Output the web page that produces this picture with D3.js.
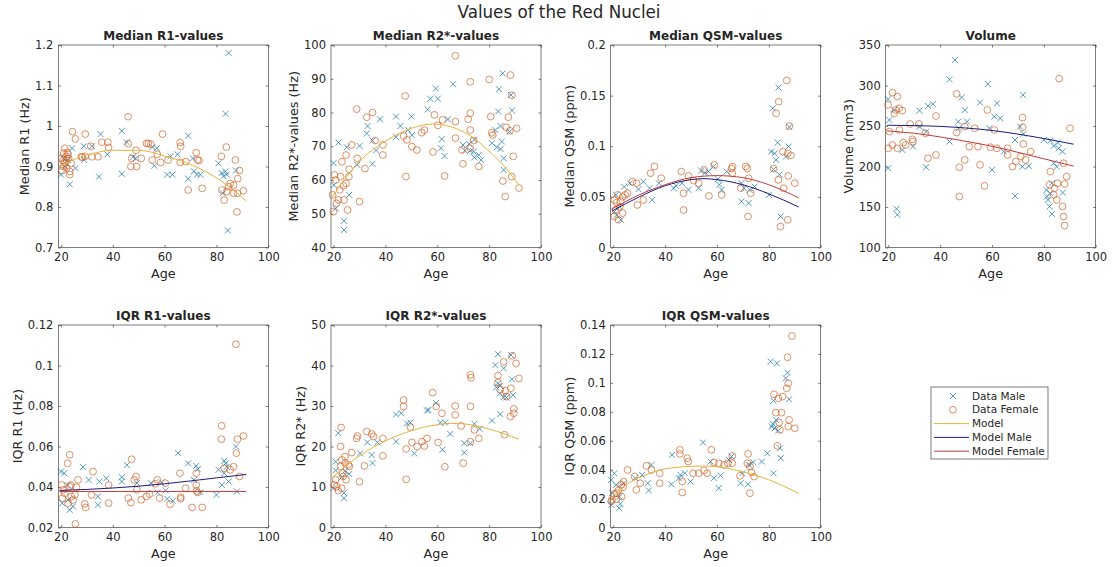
<!DOCTYPE html>
<html>
<head>
<meta charset="utf-8">
<script src="https://cdn.jsdelivr.net/npm/d3@7"></script>
<style>
  body { margin: 0; background: #fff; }
  svg text { font-family: "DejaVu Sans", sans-serif; fill: #262626; }
</style>
</head>
<body>
<svg id="chart" width="1112" height="567"></svg>
<script>
// ---- data: [age, value] ----
const xTicks = [20, 40, 60, 80, 100];

const maleR1 = [[20,0.88],[23.4,0.856],[21,0.92],[21.5,0.9],[22.8,0.916],[24.3,0.945],[25.6,0.896],[28.8,0.95],[29,0.916],
  [32,0.95],[35.3,0.98],[34.7,0.875],[37.9,0.93],[43.5,0.988],[43.5,0.882],[45.4,0.96],[47.8,0.923],[48.8,0.92],
  [55.3,0.948],[57,0.945],[56,0.902],[61,0.88],[63,0.88],[62.3,0.925],[65,0.93],[69.1,0.976],[69.1,0.87],[71.3,0.888],
  [72.5,0.88],[73.8,0.88],[70.9,0.92],[80.8,0.908],[82,0.884],[82.7,0.876],[83.5,0.888],[84,0.88],[87.5,0.89],
  [82.4,0.834],[84.7,1.18],[83.5,1.03],[84.4,0.742]];
const femaleR1 = [[45.9,1.023],[24.5,0.986],[25.6,0.968],[29.4,0.98],[35.8,0.96],[38.1,0.96],[38.4,0.947],[34.3,0.924],
  [32,0.924],[28.2,0.923],[29.4,0.925],[31.5,0.95],[46,0.956],[47,0.9],[47.3,0.92],[49.2,0.9],[49,0.94],[51,0.92],
  [53,0.957],[53.7,0.957],[54.7,0.955],[55.2,0.916],[57.2,0.93],[59.2,0.98],[58.5,0.91],[61.3,0.916],[66,0.959],
  [66.2,0.95],[66,0.91],[68.2,0.912],[69.1,0.842],[72.2,0.934],[72.7,0.916],[73.3,0.915],[74.5,0.846],[81.9,0.925],
  [83.8,0.948],[82.1,0.842],[83,0.817],[84.7,0.85],[85.3,0.858],[86.6,0.854],[87.3,0.916],[88.2,0.87],[88.9,0.89],
  [86.6,0.834],[88.1,0.834],[87.9,0.788],[90.4,0.84],[84,0.838],[21.1,0.933],[21.5,0.945],[22.2,0.916],[22.8,0.93],
  [21,0.9],[22.2,0.896],[23.4,0.888],[23.4,0.88],[21.5,0.908],[20.3,0.92],[20.5,0.89],[22.5,0.935],[24,0.908],
  [27.9,0.924],[22,0.925],[23,0.92],[20.8,0.915]];
const modelR1 = [[19.5,0.9],[25,0.917],[30,0.928],[40,0.94],[50,0.94],[60,0.926],[70,0.905],[80,0.872],[91.5,0.815]];

const maleR2s = [[20,65],[21.9,71.1],[20.1,58.5],[20.8,51.6],[24,47.9],[24,45.2],[25.1,69.7],[26,55.6],[29.1,64.5],
  [30,70.1],[32.8,73.8],[33.1,76],[35,71.7],[35,64.8],[36.4,68.8],[37.9,78],[44.1,78.8],[44.1,72.7],[45.8,76],
  [48.7,74.8],[50,78.8],[50.2,73.3],[56.3,80.9],[57.3,84.1],[59.4,87.1],[60.2,84.1],[61.4,69.4],[61.7,72.1],
  [62.8,67.1],[64.1,78],[66.1,88.4],[69.9,70.4],[70.6,68.7],[72.3,70.7],[72.7,68.7],[74.3,71.9],[74,68.4],
  [74.3,66.7],[76,67.4],[76.9,65.9],[81.1,70.9],[82.9,69.7],[82.4,74.8],[83.5,80.3],[83.8,86.9],[84.4,76],
  [84.4,69.2],[84.9,71.4],[85.2,91.6],[85.6,66.4],[85.6,63],[88.4,85.2],[88.8,80.6],[87.9,74.3]];
const femaleR2s = [[67,96.8],[47.6,84.9],[28.9,81],[35,80],[32.8,78.6],[36,71.7],[39,70.4],[39,67.4],[29.1,66.4],
  [32.1,63.4],[30,53.6],[47.9,61],[47,73],[48.3,71.9],[50.2,69.9],[52.1,68.9],[54,74],[55,74.8],[58.3,68.3],
  [58.9,79.3],[60.2,76.2],[62,77.8],[62.8,61.2],[67,77.3],[67,72.4],[69.5,68.9],[69.9,64.8],[71.9,78],[72.7,79.8],
  [72.7,74.8],[72.7,69.4],[72.7,89.1],[74,71.7],[76,64],[80,89.8],[80.6,78.8],[81,74],[81.4,73.3],[85.3,59.7],
  [86.2,55.1],[87.4,78.6],[86.6,75.6],[88,74.6],[88.2,91.1],[88.8,85.1],[89.3,67],[88.7,61],[90.6,75.3],[91.5,57.6],
  [20.3,61.5],[20.8,60],[19.6,55.6],[19.9,50.6],[21.1,53.1],[22.4,57.1],[23.2,65.4],[23.8,58.3],[24,54.1],
  [24.8,67.4],[25.4,51.1],[26,63.2],[27,70.4],[25.9,61],[24.8,59],[21.9,54.1],[22.7,61]];
const modelR2s = [[19.5,55],[25,61],[30,65.5],[40,71.5],[50,75.3],[58,76.6],[65,75.8],[73,73],[80,68.5],[85,64.8],[91.5,58.5]];

const maleQsm = [[83.7,0.158],[81.5,0.1375],[83.4,0.1036],[87.6,0.0997],[80.9,0.0947],[82.2,0.093],[82.8,0.0865],
  [81.8,0.077],[84.1,0.072],[87.9,0.119],[86.6,0.0898],[84.5,0.0306],[80,0.052],[69.4,0.0454],[72.2,0.0438],
  [74.5,0.0602],[70.4,0.0586],[72.6,0.0569],[69.4,0.0635],[63.7,0.075],[60.3,0.0675],[60.9,0.062],[61.8,0.057],
  [58.6,0.08],[56.7,0.075],[55.4,0.074],[53.9,0.076],[52.9,0.0586],[49,0.057],[46.5,0.0635],[44.2,0.061],
  [43.3,0.0586],[37.6,0.0635],[35,0.047],[34,0.0586],[31.6,0.065],[29.7,0.0576],[26.4,0.0635],[24.2,0.06],
  [22.9,0.0273],[20.4,0.0355],[21,0.052],[22.3,0.0405],[21.3,0.032]];
const femaleQsm = [[86.9,0.165],[83.8,0.144],[82.8,0.1325],[87.9,0.12],[88.5,0.091],[87.3,0.093],[85.4,0.0947],
  [87.5,0.0707],[90,0.0635],[85.7,0.0586],[83.7,0.0668],[81.8,0.078],[84.5,0.0207],[87.3,0.0273],[72,0.0306],
  [71.7,0.078],[71.1,0.08],[72.2,0.0684],[73,0.0536],[69.2,0.0586],[66,0.08],[65.6,0.078],[65.9,0.0734],[61.8,0.052],
  [59,0.0816],[56.9,0.051],[55,0.0767],[52.9,0.0635],[51,0.066],[49,0.0707],[46.2,0.075],[47.1,0.037],[47.1,0.0536],
  [35.9,0.08],[34.4,0.0734],[38.5,0.0684],[31.6,0.047],[29.3,0.042],[29,0.0635],[27.4,0.065],[20.4,0.047],
  [20.4,0.0306],[20.8,0.0372],[21.7,0.052],[22.5,0.04],[23.6,0.05],[24.6,0.052],[23.6,0.034],[22,0.0273],
  [25.5,0.0536],[21.3,0.0444],[22.9,0.0454]];
const modelQsmMale = [[19.5,0.036],[30,0.05],[40,0.061],[50,0.067],[55,0.068],[60,0.067],[70,0.062],[80,0.053],[91.5,0.04]];
const modelQsmFemale = [[19.5,0.038],[30,0.052],[40,0.062],[50,0.069],[60,0.071],[70,0.069],[80,0.062],[91.5,0.049]];

const maleVol = [[45.7,331.5],[43.6,307.6],[58.4,301.9],[72,288.3],[19.9,283],[48.3,285.4],[49.5,269.8],[32,269],
  [35.3,274.8],[37.2,277.2],[55.4,278.9],[61.9,278],[63.2,259.5],[60.9,261.6],[20.4,257.5],[22.3,269.8],[47,255.4],
  [50.4,255.4],[59,247.2],[70.8,249.3],[72.1,240.2],[47.2,247.2],[32,249.3],[34.6,243.1],[43.6,230.8],[29.5,224.6],
  [25.4,220.5],[19.9,197.9],[34.6,199.1],[60,195.8],[64.5,218.4],[68.9,163.7],[71.7,199.9],[74.2,200.7],
  [68.9,232.8],[80,232.8],[82.5,232],[83.8,225.4],[85.4,229.5],[85.7,222.5],[87.2,218.4],[83.8,204],[85,199.9],
  [81,171],[82.5,167],[81.2,163],[81.6,159],[82.2,150.6],[83.1,141.5],[23.2,147.7],[23.5,140.4],[87.3,167.8],
  [83.1,179.3]];
const femaleVol = [[85.9,308.5],[46.4,289.6],[21.6,291.2],[23.5,286.3],[19.9,276],[22.9,269.8],[24.2,271.9],
  [25.4,269],[22.3,265.7],[38.4,262.4],[28.4,252.5],[31.8,252.5],[58.2,269.8],[71.8,260.4],[71.8,248.4],[53.3,247.2],
  [49.5,249.3],[46.4,241.9],[60.9,245.1],[34.3,241],[20.4,243.1],[24.3,245.1],[29.3,233.6],[29.5,230.8],[25.8,229.5],
  [26.7,226.6],[23.5,222.5],[21.6,226.6],[20,222.5],[35.3,210.2],[38.4,214.3],[47.4,199.1],[49.5,208.1],[51.2,224.6],
  [54.6,224.6],[55.4,202],[57.1,176.1],[47.4,162.9],[59.4,223.8],[61.9,222.5],[66,222.5],[66,214.3],[67.9,199.9],
  [69.2,206.1],[71.1,212.3],[72.1,227.8],[73,208.1],[74.9,218.4],[82.5,193.7],[82.2,177.3],[84.1,173.2],[85,158.8],
  [83.8,164.9],[85.3,179.4],[87.6,204],[88,178.5],[88.8,187.6],[87.2,150.6],[87.6,138.2],[88,127.1],[90.1,247.2]];
const modelVolMale = [[19.5,251],[30,250.5],[40,249.5],[50,247.5],[60,244.5],[70,240],[80,234.5],[91.5,227.5]];
const modelVolFemale = [[19.5,244],[30,241],[40,236.5],[50,231],[60,225],[70,217.5],[80,209.5],[91.5,200.5]];

const maleIqrR1 = [[20,0.0476],[21.3,0.0468],[28.5,0.0498],[30.7,0.0435],[34.3,0.0353],[34.3,0.0312],[34.9,0.0427],
  [37.5,0.0443],[43.5,0.0448],[43.5,0.0427],[45.5,0.0509],[49.3,0.0419],[54.7,0.0419],[57.2,0.0373],[58.8,0.0423],
  [60.4,0.0383],[61,0.0342],[63.2,0.0332],[65.2,0.0567],[69.1,0.0517],[71.3,0.0435],[72.2,0.0504],[72.8,0.0488],
  [73.8,0.0374],[80,0.0361],[80.8,0.0485],[82.1,0.041],[83,0.0529],[83.6,0.0517],[84,0.05],[84.7,0.0427],[83,0.0468],
  [87.5,0.06],[87.9,0.0378],[22.6,0.041],[23.4,0.0287],[24.7,0.0304],[20.5,0.032],[22.8,0.0336]];
const femaleIqrR1 = [[87.5,0.1105],[82,0.0702],[81.9,0.0636],[88.1,0.0636],[90.4,0.0652],[87.7,0.0567],[23.4,0.0559],
  [22.6,0.0517],[32.4,0.0476],[47.3,0.0537],[49,0.0452],[48.3,0.0435],[26.6,0.0435],[38.4,0.041],[38.4,0.032],
  [29.2,0.0317],[29.6,0.0299],[31.8,0.0361],[25.6,0.0218],[46,0.0345],[47,0.0323],[49.3,0.0386],[51,0.0337],
  [53,0.0353],[54.2,0.0365],[57.2,0.0435],[56.4,0.0416],[58.1,0.0345],[60.3,0.0419],[62.1,0.0315],[65.9,0.0468],
  [66.2,0.035],[66.2,0.0342],[68.1,0.0394],[70.6,0.0299],[72.2,0.041],[72.3,0.0381],[72.8,0.0373],[74.5,0.0299],
  [72.2,0.0468],[83,0.0493],[85.3,0.0485],[86.6,0.05],[88.9,0.0452],[20.3,0.041],[20.9,0.0386],[21.5,0.0369],
  [23.4,0.0402],[24,0.0353],[24.7,0.0336],[25.4,0.0361],[22.8,0.032],[23.8,0.041],[20.6,0.0345],[26,0.0399]];
const modelIqrR1Male = [[19.5,0.0383],[30,0.0388],[40,0.0395],[50,0.0404],[60,0.0416],[70,0.043],[80,0.0445],[91.5,0.0462]];
const modelIqrR1Female = [[19.5,0.0378],[50,0.0378],[91.5,0.0378]];

const maleIqrR2s = [[83.4,42.8],[88.4,42.6],[82.4,40.1],[85.6,39.3],[88.8,36.6],[83.4,35.6],[84.3,35],[82.8,34.6],
  [84.1,33.1],[85.6,32.2],[89.2,32.7],[84.3,28],[81.1,26.4],[86.7,32.1],[74.3,25.6],[76.4,24.4],[72.8,20.8],
  [70.4,20.8],[70.4,18.5],[65,23.1],[63,25.9],[62,19.2],[61.2,25.9],[59.5,30.7],[56.6,29],[56,28.9],[44.1,27.9],
  [46.1,28.2],[48.3,25.7],[49.6,25.9],[51.1,18.3],[44.1,21.2],[36.9,21],[35,15.9],[34.7,17.9],[33,21],[30.2,18.3],
  [20.8,14.1],[20.8,16.3],[21.8,23.3],[19.9,9.7],[24,7.2],[24,8.5],[26,13.2],[24.4,14],[23.1,12.4]];
const femaleIqrR2s = [[88.9,42.4],[85.6,40.9],[90.4,40.5],[91.5,36.8],[83.4,37.5],[83.4,35.8],[84.3,34],[86.2,33.8],
  [86.7,32.3],[88.4,34.4],[89.5,29.3],[89.5,28.2],[88.2,27.4],[85.9,22.9],[72.8,37.7],[73,37],[72.8,29.9],[74.3,24.1],
  [72.8,21.2],[76,22],[69.2,25.1],[70,15.9],[66.9,30],[66.9,27.8],[61.8,28.2],[59.6,29.9],[58.2,33.3],[60.3,21],
  [62.9,15],[56,22],[55,20.1],[54.1,21.2],[52.2,20],[50.2,21],[49.6,24.8],[47,31.5],[47,29.9],[48,19.4],[48,11.9],
  [39,22],[39,17.7],[35.4,22.5],[34.7,23.1],[32.8,23.7],[31.9,15.2],[29.2,22.6],[28.9,22],[30,11.3],[27,18.5],
  [22.9,24.7],[22.7,20],[25.7,15.5],[26.1,15.1],[21.2,10.1],[20.3,10.5],[23.2,16.7],[23.5,13.4],[23.7,12.6],
  [22.7,15.1],[24.4,17.5],[24.8,11.8],[21.8,9.1],[23.1,9.7],[20.8,11.8],[24.4,15.9]];
const modelIqrR2s = [[19.5,12.4],[25,15.3],[30,17.7],[35,19.7],[40,21.4],[50,23.9],[60,25.4],[65,25.7],[70,25.6],[80,24.3],[91.5,21.8]];

const maleIqrQsm = [[80.7,0.1147],[83.1,0.1135],[87.2,0.107],[86.5,0.1032],[87.8,0.0887],[81.8,0.0877],[81.6,0.0716],
  [81.1,0.0698],[82.3,0.0686],[83.6,0.067],[82.8,0.0744],[84.3,0.0548],[84.6,0.0479],[79.4,0.0513],[81.8,0.0375],
  [77.3,0.0456],[73.9,0.0451],[72.4,0.0433],[72,0.0299],[69.1,0.0306],[69.8,0.0375],[65.6,0.0491],[64.6,0.0467],
  [60.7,0.0272],[61.4,0.0359],[58.8,0.0341],[57.5,0.0456],[54.6,0.0587],[49.8,0.0318],[47.6,0.0375],[45.9,0.0364],
  [45.3,0.0341],[42.7,0.0502],[42.4,0.0299],[34.7,0.0433],[33.3,0.0306],[33.7,0.0256],[31.1,0.0364],[28.5,0.0341],
  [24,0.0306],[22.3,0.0214],[22.7,0.0164],[22.3,0.0134],[19.2,0.0157],[19.2,0.0329],[20.4,0.0375],[21.1,0.0295],
  [19.5,0.0237]];
const femaleIqrQsm = [[88.9,0.1324],[87.2,0.1177],[87.5,0.0997],[86.9,0.0963],[85.3,0.0905],[83.7,0.0893],[82,0.0921],
  [82.7,0.0794],[84.9,0.0794],[84,0.0725],[84.3,0.0675],[87.8,0.0744],[87.5,0.0698],[90,0.0686],[83.3,0.0564],
  [72,0.0509],[71.7,0.0444],[72.7,0.0421],[73.3,0.038],[72.7,0.0237],[74.3,0.0352],[68.9,0.0357],[65.9,0.0495],
  [65.9,0.0444],[64.2,0.0444],[62.7,0.0433],[60.7,0.0444],[58.8,0.0449],[57.8,0.0537],[56.2,0.0375],[55,0.0394],
  [53,0.0375],[50.8,0.0375],[48.5,0.0479],[48.9,0.0456],[45.7,0.0537],[45.7,0.0509],[46.6,0.0318],[46.6,0.0242],
  [37.9,0.0375],[37.9,0.0306],[34.7,0.0398],[32.8,0.0426],[30.4,0.0306],[28.9,0.026],[28.2,0.0352],[25.5,0.0398],
  [24,0.0318],[23.1,0.0295],[23.7,0.0278],[22.1,0.026],[21.4,0.0237],[20.4,0.0233],[19.5,0.0191],[19.2,0.018],
  [21.2,0.0196],[23.2,0.0214]];
const modelIqrQsm = [[19.5,0.021],[25,0.0295],[30,0.0345],[35,0.038],[40,0.0405],[50,0.0423],[55,0.0425],[60,0.042],[70,0.0385],[80,0.033],[91.5,0.0235]];

const yTicksR1 = [0.7, 0.8, 0.9, 1, 1.1, 1.2];
const yTicksR2s = [40, 50, 60, 70, 80, 90, 100];
const yTicksQsm = [0, 0.05, 0.1, 0.15, 0.2];
const yTicksVol = [100, 150, 200, 250, 300, 350];
const yTicksIqrR1 = [0.02, 0.04, 0.06, 0.08, 0.1, 0.12];
const yTicksIqrR2s = [0, 10, 20, 30, 40, 50];
const yTicksIqrQsm = [0, 0.02, 0.04, 0.06, 0.08, 0.1, 0.12, 0.14];

const legendLabels = ['Data Male', 'Data Female', 'Model', 'Model Male', 'Model Female'];

// ---- styles ----
const colMale = '#1a78aa';
const colFemale = '#cf6127';
const colModel = '#e6b33a';
const colModelMale = '#1c1c7c';
const colModelFemale = '#c23b3b';

const W = 210, H = 202.5;
const xDomain = [19, 100];
const colX = [58.3, 331, 610.7, 885.7];
const rowY = [45, 325];

const panels = [
  { title: 'Median R1-values', ylabel: 'Median R1 (Hz)', yTicks: yTicksR1, male: maleR1, female: femaleR1,
    models: [[modelR1, colModel]], col: 0, row: 0 },
  { title: 'Median R2*-values', ylabel: 'Median R2*-values (Hz)', yTicks: yTicksR2s, male: maleR2s, female: femaleR2s,
    models: [[modelR2s, colModel]], col: 1, row: 0 },
  { title: 'Median QSM-values', ylabel: 'Median QSM (ppm)', yTicks: yTicksQsm, male: maleQsm, female: femaleQsm,
    models: [[modelQsmMale, colModelMale], [modelQsmFemale, colModelFemale]], col: 2, row: 0 },
  { title: 'Volume', ylabel: 'Volume (mm3)', yTicks: yTicksVol, male: maleVol, female: femaleVol,
    models: [[modelVolMale, colModelMale], [modelVolFemale, colModelFemale]], col: 3, row: 0 },
  { title: 'IQR R1-values', ylabel: 'IQR R1 (Hz)', yTicks: yTicksIqrR1, male: maleIqrR1, female: femaleIqrR1,
    models: [[modelIqrR1Male, colModelMale], [modelIqrR1Female, colModelFemale]], col: 0, row: 1 },
  { title: 'IQR R2*-values', ylabel: 'IQR R2* (Hz)', yTicks: yTicksIqrR2s, male: maleIqrR2s, female: femaleIqrR2s,
    models: [[modelIqrR2s, colModel]], col: 1, row: 1 },
  { title: 'IQR QSM-values', ylabel: 'IQR QSM (ppm)', yTicks: yTicksIqrQsm, male: maleIqrQsm, female: femaleIqrQsm,
    models: [[modelIqrQsm, colModel]], col: 2, row: 1 },
];

const svg = d3.select('#chart');
const fmt = (d) => String(+d.toFixed(4));
const crossPath = 'M-3,-3L3,3M-3,3L3,-3';

svg.append('text')
  .attr('x', 559).attr('y', 18)
  .attr('text-anchor', 'middle')
  .attr('textLength', 203).attr('lengthAdjust', 'spacingAndGlyphs')
  .style('font-size', '17px')
  .text('Values of the Red Nuclei');

panels.forEach((p) => {
  const g = svg.append('g').attr('transform', `translate(${colX[p.col]},${rowY[p.row]})`);
  const x = d3.scaleLinear().domain(xDomain).range([0, W]);
  const y = d3.scaleLinear().domain(d3.extent(p.yTicks)).range([H, 0]);

  // axes, ticks inside on all sides (matlab box on)
  const tickStyle = (sel) => {
    sel.select('.domain').remove();
    sel.selectAll('.tick line').attr('stroke', '#262626').attr('stroke-width', 0.6);
    sel.selectAll('.tick text').style('font-size', '11.5px').attr('fill', '#262626');
  };
  g.append('g').attr('transform', `translate(0,${H})`)
    .call(d3.axisBottom(x).tickValues(xTicks).tickSizeInner(-2.5).tickSizeOuter(0).tickPadding(5).tickFormat(fmt))
    .call(tickStyle);
  g.append('g')
    .call(d3.axisTop(x).tickValues(xTicks).tickSizeInner(-2.5).tickSizeOuter(0).tickFormat(''))
    .call(tickStyle);
  const ay = g.append('g')
    .call(d3.axisLeft(y).tickValues(p.yTicks).tickSizeInner(-2.5).tickSizeOuter(0).tickPadding(5).tickFormat(fmt))
    .call(tickStyle);
  g.append('g').attr('transform', `translate(${W},0)`)
    .call(d3.axisRight(y).tickValues(p.yTicks).tickSizeInner(-2.5).tickSizeOuter(0).tickFormat(''))
    .call(tickStyle);
  g.selectAll('.tick text').attr('font-family', null);

  g.append('rect')
    .attr('width', W).attr('height', H)
    .attr('fill', 'none').attr('stroke', '#262626').attr('stroke-width', 0.6);

  // data
  g.append('g').selectAll('path')
    .data(p.male).enter().append('path')
    .attr('d', crossPath)
    .attr('transform', (d) => `translate(${x(d[0])},${y(d[1])})`)
    .attr('fill', 'none').attr('stroke', colMale).attr('stroke-width', 0.75);

  g.append('g').selectAll('circle')
    .data(p.female).enter().append('circle')
    .attr('cx', (d) => x(d[0])).attr('cy', (d) => y(d[1])).attr('r', 3.4)
    .attr('fill', 'none').attr('stroke', colFemale).attr('stroke-width', 0.7);

  const line = d3.line().x((d) => x(d[0])).y((d) => y(d[1])).curve(d3.curveMonotoneX);
  p.models.forEach(([pts, col]) => {
    g.append('path').datum(pts)
      .attr('d', line)
      .attr('fill', 'none').attr('stroke', col).attr('stroke-width', 1);
  });

  // labels
  g.append('text')
    .attr('x', W / 2).attr('y', -5.5)
    .attr('text-anchor', 'middle')
    .style('font-size', '12px').style('font-weight', 'bold')
    .text(p.title);

  g.append('text')
    .attr('x', W / 2).attr('y', H + 30)
    .attr('text-anchor', 'middle')
    .style('font-size', '12.8px')
    .text('Age');

  const tickW = d3.max(ay.selectAll('.tick text').nodes(), (n) => n.getBBox().width);
  g.append('text')
    .attr('transform', `translate(${-tickW - 11},${H / 2}) rotate(-90)`)
    .attr('text-anchor', 'middle')
    .style('font-size', '12.8px')
    .text(p.ylabel);
});

// legend
const lg = svg.append('g').attr('transform', 'translate(931,387)');
lg.append('rect').attr('width', 117).attr('height', 72)
  .attr('fill', '#fff').attr('stroke', '#262626').attr('stroke-width', 0.6);

legendLabels.forEach((lab, i) => {
  const cy = 9 + i * 13.8;
  const row = lg.append('g').attr('transform', `translate(0,${cy})`);
  if (i === 0) {
    row.append('path').attr('d', crossPath).attr('transform', 'translate(22,0)')
      .attr('fill', 'none').attr('stroke', colMale).attr('stroke-width', 0.75);
  } else if (i === 1) {
    row.append('circle').attr('cx', 22).attr('r', 3.4)
      .attr('fill', 'none').attr('stroke', colFemale).attr('stroke-width', 0.7);
  } else {
    const c = [colModel, colModelMale, colModelFemale][i - 2];
    row.append('line').attr('x1', 3).attr('x2', 38)
      .attr('stroke', c).attr('stroke-width', 1);
  }
  row.append('text').attr('x', 41).attr('dy', '0.35em')
    .style('font-size', '10.5px')
    .text(lab);
});
</script>
</body>
</html>
